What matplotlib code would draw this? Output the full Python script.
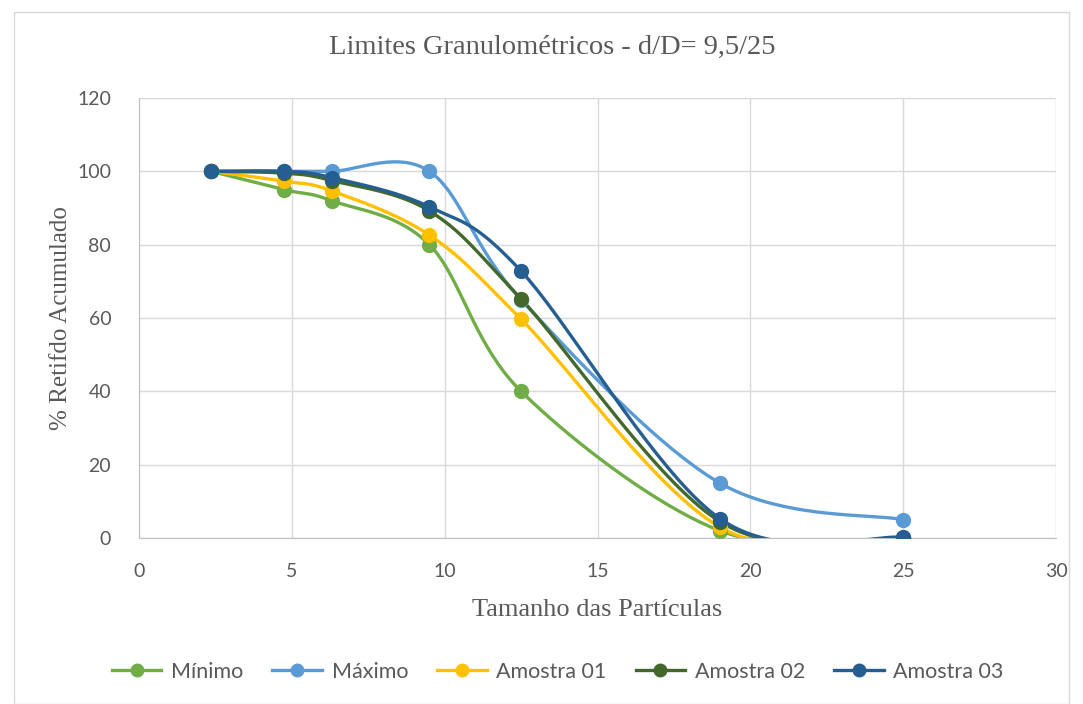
import numpy as np
import matplotlib
matplotlib.use("Agg")
import matplotlib.pyplot as plt
from matplotlib.patches import Rectangle

sizes = [2.36, 4.75, 6.3, 9.5, 12.5, 19, 25]
minimo = [100, 95, 92, 80, 40, 2, 0]
maximo = [100, 100, 100, 100, 65, 15, 5]
amostra01 = [100, 97.3, 94.7, 82.6, 59.7, 3, 0]
amostra02 = [100, 99.5, 97.5, 89.2, 65.2, 4.5, 0]
amostra03 = [100, 100, 98.3, 90.3, 72.8, 5.3, 0.2]

names = ["Mínimo", "Máximo", "Amostra 01", "Amostra 02", "Amostra 03"]
series = [minimo, maximo, amostra01, amostra02, amostra03]
colors = ["#70AD47", "#5B9BD5", "#FFC000", "#43682B", "#255E91"]


def smooth(x, y, n=40):
    x = np.asarray(x, float)
    y = np.asarray(y, float)
    px = np.concatenate([[x[0]], x, [x[-1]]])
    py = np.concatenate([[y[0]], y, [y[-1]]])
    xs, ys = [], []
    t = np.linspace(0, 1, n)
    for i in range(1, len(px) - 2):
        p0 = np.array([px[i], py[i]])
        p3 = np.array([px[i + 1], py[i + 1]])
        c1 = p0 + (np.array([px[i + 1], py[i + 1]]) - np.array([px[i - 1], py[i - 1]])) / 6
        c2 = p3 - (np.array([px[i + 2], py[i + 2]]) - np.array([px[i], py[i]])) / 6
        b = ((1 - t) ** 3)[:, None] * p0 + (3 * (1 - t) ** 2 * t)[:, None] * c1 \
            + (3 * (1 - t) * t ** 2)[:, None] * c2 + (t ** 3)[:, None] * p3
        xs.append(b[:, 0])
        ys.append(b[:, 1])
    return np.concatenate(xs), np.concatenate(ys)


sans = ["Lato", "DejaVu Sans"]
serif = "Liberation Serif"
grey = "#595959"

fig = plt.figure(figsize=(10.83, 7.04), dpi=100)
fig.patches.append(Rectangle((14 / 1083, 0.0), 1 - 28 / 1083, 1 - 12 / 704,
                             transform=fig.transFigure, fill=False,
                             edgecolor="#d9d9d9", linewidth=1))
ax = fig.add_axes([139 / 1083, 1 - 538 / 704, (1056 - 139) / 1083, (538 - 98) / 704])

for name, vals, c in zip(names, series, colors):
    sx, sy = smooth(sizes, vals)
    ax.plot(sx, sy, color=c, lw=2.4, solid_capstyle="round", zorder=3)
    ax.plot(sizes, vals, "o", color=c, ms=10, zorder=4)

ax.set_xlim(0, 30)
ax.set_ylim(0, 120)
ax.set_xticks(range(0, 31, 5))
ax.set_yticks(range(0, 121, 20))
ax.grid(True, color="#d9d9d9", lw=1)
ax.set_axisbelow(True)
for s in ["top", "right"]:
    ax.spines[s].set_visible(False)
ax.spines["bottom"].set_color("#bfbfbf")
ax.spines["left"].set_color("#bfbfbf")
ax.tick_params(axis="y", length=0, pad=20, labelsize=14, labelcolor=grey)
ax.tick_params(axis="x", length=0, pad=18, labelsize=14, labelcolor=grey)
for lab in ax.get_xticklabels() + ax.get_yticklabels():
    lab.set_family(sans)

fig.text(0.51, 1 - 47 / 704, "Limites Granulométricos - d/D= 9,5/25",
         ha="center", va="center", fontsize=20.5, family=serif, color=grey)
ax.set_xlabel("Tamanho das Partículas", fontsize=19, family=serif,
              color=grey, labelpad=14)
ax.set_ylabel("% Retifdo Acumulado", fontsize=18, family=serif,
              color=grey, labelpad=4)

handles = [plt.Line2D([], [], color=c, lw=2.4, marker="o", ms=9) for c in colors]
fig.legend(handles, names, loc="center", bbox_to_anchor=(0.515, 1 - 672 / 704), ncol=5,
           frameon=False, handlelength=2.3, columnspacing=1.35, handletextpad=0.45,
           prop={"family": sans, "size": 15.5}, labelcolor=grey)

fig.savefig("out.png", dpi=100)
